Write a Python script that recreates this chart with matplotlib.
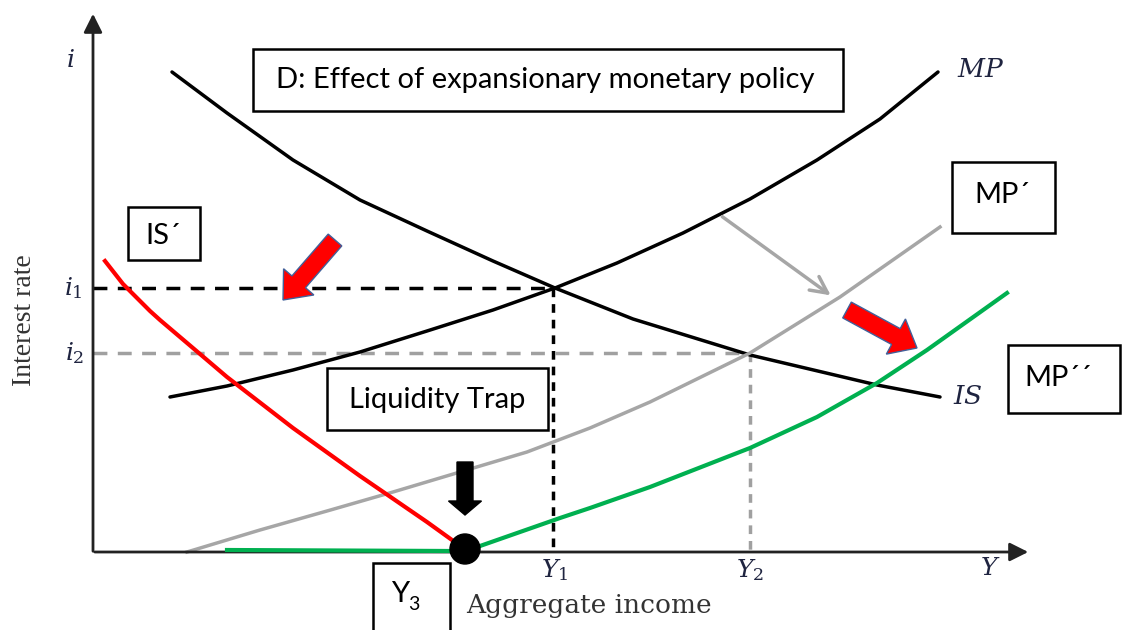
import matplotlib
matplotlib.use('Agg')
from matplotlib import pyplot as plt
from matplotlib.patches import Rectangle, Circle, FancyArrow

plt.rcParams["mathtext.fontset"] = "dejavuserif"

# curves (origin = corner of the axes, 1 unit = 1 px)
mp_x = [77, 134, 200, 267, 334, 400, 462, 524, 590, 657, 724, 787, 845]
mp_y = [155, 166, 182, 200, 221, 242, 264, 289, 319, 353, 392, 433, 480]

is_x = [79, 134, 200, 267, 334, 400, 462, 540, 657, 784, 847]
is_y = [480, 439, 392, 352, 321, 291, 264, 233, 197, 167, 155]

mp1_x = [94, 167, 234, 300, 367, 434, 497, 557, 657, 747, 847]
mp1_y = [0, 22, 41, 60, 80, 100, 124, 150, 199, 255, 325]

mp2_x = [372, 387, 467, 497, 557, 657, 724, 784, 834, 914]
mp2_y = [2, 6, 34, 44, 65, 104, 135, 169, 202, 259]
trap_x = [134, 357, 372]
trap_y = [2, 1, 2]

is1_x = [12, 30, 57, 67, 107, 134, 200, 267, 334, 359, 369]
is1_y = [291, 268, 241, 232, 198, 175, 124, 76, 30, 12, 5]

# equilibria
i_levels = [264, 199]
y_levels = [460, 657]
y3 = 372

INK = '#1f2440'
BOX_FONT = 'Lato'

fig = plt.figure(figsize=(11.26, 6.30), dpi=100)
ax = fig.add_axes([0, 0, 1, 1])
ax.set_xlim(-93, 1033)
ax.set_ylim(-78, 552)
ax.axis('off')

# axes with arrows
ax.annotate('', xy=(0, 541), xytext=(0, -2),
            arrowprops=dict(arrowstyle='-|>', color='#222222', lw=2, mutation_scale=28))
ax.annotate('', xy=(938, 0), xytext=(-1, 0),
            arrowprops=dict(arrowstyle='-|>', color='#222222', lw=2, mutation_scale=28))

# dashed guides
ax.plot([0, y_levels[0]], [i_levels[0], i_levels[0]], color='black', lw=2.5, ls=(0, (4, 3)))
ax.plot([y_levels[0], y_levels[0]], [i_levels[0], 0], color='black', lw=2.5, ls=(0, (2.5, 2)))
ax.plot([0, y_levels[1]], [i_levels[1], i_levels[1]], color='#a0a0a0', lw=2.5, ls=(0, (4, 3)))
ax.plot([y_levels[1], y_levels[1]], [i_levels[1], 0], color='#a0a0a0', lw=2.5, ls=(0, (2.5, 2)))

# curves
ax.plot(mp_x, mp_y, color='black', lw=2.5, solid_capstyle='round', solid_joinstyle='round')
ax.plot(is_x, is_y, color='black', lw=2.5, solid_capstyle='round', solid_joinstyle='round')
ax.plot(mp1_x, mp1_y, color='#a6a6a6', lw=2.5, solid_joinstyle='round')
ax.plot(mp2_x, mp2_y, color='#00b050', lw=3, solid_joinstyle='round', zorder=4)
ax.plot(trap_x, trap_y, color='#00b050', lw=3, zorder=4)
ax.plot(is1_x, is1_y, color='#ff0000', lw=3, solid_joinstyle='round', zorder=4)

# gray shift arrow
ax.annotate('', xy=(740, 255), xytext=(627, 337),
            arrowprops=dict(arrowstyle='->', color='#a6a6a6', lw=2.5, mutation_scale=30))

# red arrows
ax.add_patch(FancyArrow(242, 312, -52, -60, width=18, head_width=40, head_length=24,
                        length_includes_head=True, fc='#ff0000', ec='#41609a', lw=1, zorder=5))
ax.add_patch(FancyArrow(754, 242, 70, -38, width=18, head_width=40, head_length=24,
                        length_includes_head=True, fc='#ff0000', ec='#41609a', lw=1, zorder=5))
# black arrow to the trap point
ax.add_patch(FancyArrow(y3, 90, 0, -53, width=16, head_width=33, head_length=14,
                        length_includes_head=True, fc='black', ec='black', zorder=5))
ax.add_patch(Circle((y3, 3), 15, fc='black', ec='black', zorder=6))


def box(x0, x1, y0, y1):
    ax.add_patch(Rectangle((x0, y0), x1 - x0, y1 - y0, fc='white', ec='black', lw=1.8, zorder=7))


box(160, 750, 441, 503)
ax.text(452, 472, 'D: Effect of expansionary monetary policy', fontsize=21, family=BOX_FONT,
        ha='center', va='center', zorder=8)
box(35, 107, 292, 345)
ax.text(70, 316, 'IS´', fontsize=21, family=BOX_FONT, ha='center', va='center', zorder=8)
box(859, 962, 319, 390)
ax.text(909, 357, 'MP´', fontsize=21, family=BOX_FONT, ha='center', va='center', zorder=8)
box(915, 1027, 139, 207)
ax.text(965, 174, 'MP´´', fontsize=21, family=BOX_FONT, ha='center', va='center', zorder=8)
box(234, 455, 122, 184)
ax.text(344, 152, 'Liquidity Trap', fontsize=21, family=BOX_FONT, ha='center', va='center', zorder=8)
box(280, 357, -95, -11)
ax.text(307, -42, 'Y', fontsize=21, family=BOX_FONT, ha='center', va='center', zorder=8)
ax.text(321, -52, '3', fontsize=14, family=BOX_FONT, ha='center', va='center', zorder=8)

# axis labels (serif, textbook style)
ax.text(-23, 492, '$i$', fontsize=18, color=INK, ha='center', va='center')
ax.text(-20, i_levels[0], '$i_1$', fontsize=18, color=INK, ha='center', va='center')
ax.text(-18, i_levels[1], '$i_2$', fontsize=18, color=INK, ha='center', va='center')
ax.text(-68, 232, 'Interest rate', fontsize=20, family='Liberation Serif', color='#333333',
        rotation=90, ha='center', va='center')
ax.text(y_levels[0] + 2, -18, '$Y_1$', fontsize=18, color=INK, ha='center', va='center')
ax.text(y_levels[1], -18, '$Y_2$', fontsize=18, color=INK, ha='center', va='center')
ax.text(897, -16, '$Y$', fontsize=18, color=INK, ha='center', va='center')
ax.text(496, -53, 'Aggregate income', fontsize=19, family='DejaVu Serif', color='#333333',
        ha='center', va='center')
ax.text(864, 482, '$MP$', fontsize=19, color=INK, ha='left', va='center')
ax.text(860, 155, '$IS$', fontsize=19, color=INK, ha='left', va='center')

fig.savefig('out.png', dpi=100)
